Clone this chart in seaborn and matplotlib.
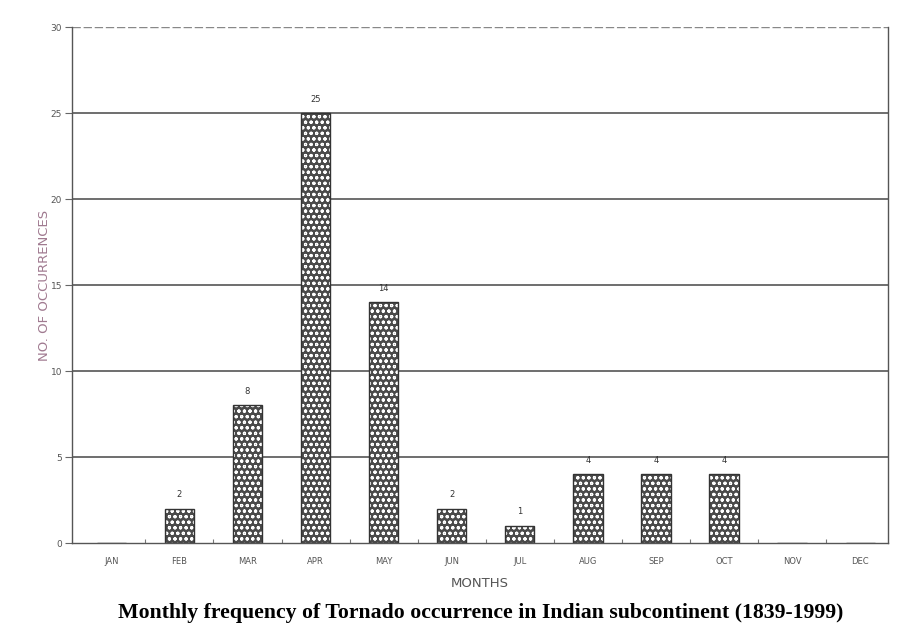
import matplotlib
matplotlib.use("Agg")
import matplotlib.pyplot as plt
import matplotlib.colors as mcolors
import seaborn as sns
import pandas as pd
import numpy as np

months = ["JAN", "FEB", "MAR", "APR", "MAY", "JUN", "JUL", "AUG", "SEP", "OCT", "NOV", "DEC"]
counts = [0, 2, 8, 25, 14, 2, 1, 4, 4, 4, 0, 0]
bar_labels = ["", "2", "8", "25", "14", "2", "1", "4", "4", "4", "", ""]
yticks = [0, 5, 10, 15, 20, 25, 30]

df = pd.DataFrame({"month": months, "count": counts})

sns.set_theme(style="white")
plt.rcParams["hatch.linewidth"] = 0.8
plt.rcParams["font.family"] = ["DejaVu Sans"]

fig = plt.figure(figsize=(8.98, 6.43), dpi=100)
ax = fig.add_axes([0.080, 0.1555, 0.909, 0.8025])

# grid lines
for y in yticks[1:-1]:
    ax.axhline(y, color="#555555", lw=1.2, zorder=0)
ax.axhline(30, color="#888888", lw=1.0, ls=(0, (6, 2)), zorder=0)

sns.barplot(data=df, x="month", y="count", order=months, ax=ax,
            color="#4a4a4a", saturation=1, width=0.43, zorder=2)

white = mcolors.to_rgba("white")
for p in ax.patches:
    p.set_facecolor("#4a4a4a")
    p.set_edgecolor("#333333")
    p.set_linewidth(1.0)
    p.set_hatch("ooo")
    p._hatch_color = white

for i, lab in enumerate(bar_labels):
    if lab:
        ax.text(i, counts[i] + 0.55, lab, ha="center", va="bottom",
                fontsize=6, color="#333333")

ax.set_xlim(-0.58, 11.41)
ax.set_ylim(0, 30)
ax.set_yticks(yticks)
ax.set_yticklabels([str(v) for v in yticks], fontsize=6.5, color="#555555")
ax.set_xticks(range(12))
ax.set_xticklabels(months, fontsize=6, color="#555555")
ax.tick_params(axis="x", length=0, pad=10)
ax.tick_params(axis="y", length=5, width=0.8, color="#666666", direction="out", left=True, pad=2)
ax.set_xticks(np.arange(0.5, 11, 1), minor=True)
ax.tick_params(axis="x", which="minor", length=3, width=0.8, color="#777777", direction="in", bottom=True)

for side in ["left", "right", "bottom"]:
    ax.spines[side].set_visible(True)
    ax.spines[side].set_color("#555555")
    ax.spines[side].set_linewidth(1.0)
ax.spines["top"].set_visible(False)

ax.set_xlabel("MONTHS", fontsize=9.5, color="#555555", labelpad=8)
ax.set_ylabel("NO. OF OCCURRENCES", fontsize=9.5, color="#a07a90", labelpad=0)

fig.text(0.535, 0.047, "Monthly frequency of Tornado occurrence in Indian subcontinent (1839-1999)",
         ha="center", va="center", fontsize=15.7, fontweight="bold",
         family=["Liberation Serif", "DejaVu Serif"], color="black")

fig.savefig("out.png", dpi=100)
